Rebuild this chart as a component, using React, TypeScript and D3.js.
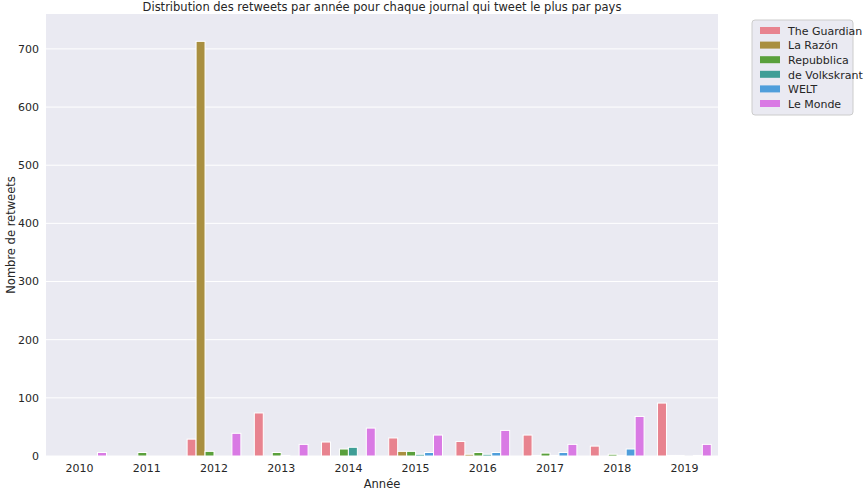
import React from "react"
import * as d3 from "d3"

const years = ["2010", "2011", "2012", "2013", "2014", "2015", "2016", "2017", "2018", "2019"]
const papers = ["The Guardian", "La Razón", "Repubblica", "de Volkskrant", "WELT", "Le Monde"]
const colors = ["#e8838f", "#a98f40", "#5aa03c", "#3f9e96", "#4f9edb", "#d97ae4"]

// retweets per year, one array per paper
const guardian = [0, 0, 29, 74, 24, 31, 25, 36, 17, 91]
const razon = [0, 0, 713, 0, 0, 8, 3, 1, 0, 1]
const repubblica = [0, 6, 8, 6, 12, 8, 6, 5, 3, 1]
const volkskrant = [0, 0, 0, 1, 15, 3, 3, 1, 1, 0]
const welt = [0, 0, 0, 0, 0, 6, 6, 6, 12, 1]
const lemonde = [6, 0, 39, 20, 48, 36, 44, 20, 68, 20]
const series = [guardian, razon, repubblica, volkskrant, welt, lemonde]
const yTicks = [0, 100, 200, 300, 400, 500, 600, 700]

const W = 866, H = 496
const m = { left: 46, right: 718, top: 14, bottom: 456 }

export default function App() {
  const x = d3.scaleBand().domain(years).range([m.left, m.right]).paddingInner(0.2).paddingOuter(0.1)
  const x1 = d3.scaleBand().domain(papers).range([0, x.bandwidth()])
  const y = d3.scaleLinear().domain([0, 760]).range([m.bottom, m.top])
  const font = "DejaVu Sans, sans-serif"
  return (
    <svg width={W} height={H} style={{ position: "absolute", left: 0, top: 0 }} fontFamily={font}>
      <rect width={W} height={H} fill="#fff" />
      <rect x={m.left} y={m.top} width={m.right - m.left} height={m.bottom - m.top} fill="#eaeaf2" />
      {yTicks.map(t => (
        <g key={t}>
          <line x1={m.left} x2={m.right} y1={y(t)} y2={y(t)} stroke="#fff" strokeWidth={1} />
          <text x={m.left - 7} y={y(t)} dy="0.35em" textAnchor="end" fontSize={11} fill="#262626">{t}</text>
        </g>
      ))}
      {series.map((s, i) =>
        s.map((v, j) => (
          <rect key={i + "-" + j} x={x(years[j])! + x1(papers[i])!} width={x1.bandwidth()}
            y={y(v)} height={m.bottom - y(v)} fill={colors[i]} stroke="#fff" strokeWidth={1} />
        ))
      )}
      {years.map(yr => (
        <text key={yr} x={x(yr)! + x.bandwidth() / 2} y={m.bottom + 16} textAnchor="middle" fontSize={11} fill="#262626">{yr}</text>
      ))}
      <text x={(m.left + m.right) / 2} y={m.bottom + 32} textAnchor="middle" fontSize={11.5} fill="#262626">Année</text>
      <text transform={`translate(15,${(m.top + m.bottom) / 2}) rotate(-90)`} textAnchor="middle" fontSize={11.5} fill="#262626">Nombre de retweets</text>
      <text x={(m.left + m.right) / 2} y={m.top - 3} textAnchor="middle" fontSize={11.5} fill="#262626">Distribution des retweets par année pour chaque journal qui tweet le plus par pays</text>
      <g transform="translate(752,20)">
        <rect x={0} y={0} width={101} height={95} rx={3} fill="#eaeaf2" stroke="#cccccc" />
        {papers.map((p, i) => (
          <g key={p} transform={`translate(8,${11 + i * 14.6})`}>
            <rect x={0} y={-4} width={20} height={7} fill={colors[i]} />
            <text x={28} y={0} dy="0.35em" fontSize={11} fill="#262626">{p}</text>
          </g>
        ))}
      </g>
    </svg>
  )
}
